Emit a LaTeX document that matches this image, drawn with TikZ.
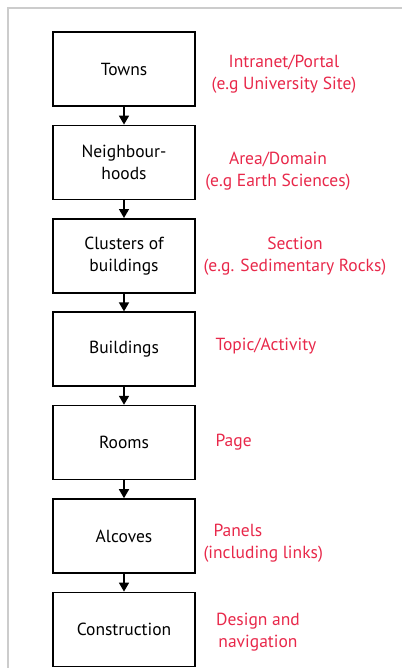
\documentclass[tikz,border=0pt]{standalone}
\usepackage{fontspec}
\setmainfont{PT Sans}
\usetikzlibrary{arrows.meta,chains}
\definecolor{labelred}{RGB}{232,40,74}
\definecolor{framegray}{RGB}{204,204,204}

\begin{document}
\begin{tikzpicture}[
  x=1pt,y=-1pt,
  node distance=17.8pt,
  start chain=levels going below,
  level/.style={draw,line width=1.6pt,minimum width=142pt,minimum height=74pt,align=center,
    font=\fontsize{17.5}{22}\selectfont},
  note/.style={text=labelred,align=center,font=\fontsize{17.5}{22}\selectfont},
  every on chain/.style={join},
  every join/.style={-{Triangle[width=10pt,length=9pt]},line width=1.6pt}
]
  \useasboundingbox (0,0) rectangle (402,668);
  \draw[framegray,line width=1.4pt] (8,668) -- (8,8) -- (402,8);

  \node[level,on chain=levels] (towns) at (124,69) {Towns};
  \node[level,on chain=levels] (neighbourhoods) {Neighbour-\\hoods};
  \node[level,on chain=levels] (clusters) {Clusters of\\buildings};
  \node[level,on chain=levels] (buildings) {Buildings};
  \node[level,on chain=levels] (rooms) {Rooms};
  \node[level,on chain=levels] (alcoves) {Alcoves};
  \node[level,on chain=levels] (construction) {Construction};

  \node[note] (portal) at (284,74) {Intranet/Portal\\(e.g University Site)};
  \node[note] (domain) at (278,171) {Area/Domain\\(e.g Earth Sciences)};
  \node[note] (section) at (295,256) {Section\\(e.g. Sedimentary Rocks)};
  \node[note,anchor=west] (topic) at (212,346) {Topic/Activity};
  \node[note,anchor=west] (page) at (212,442) {Page};
  \node[note,anchor=west,align=left] (panels) at (200,543) {\hspace*{10pt}Panels\\(including links)};
  \node[note] (design) at (258,632) {Design and\\navigation};
\end{tikzpicture}
\end{document}
